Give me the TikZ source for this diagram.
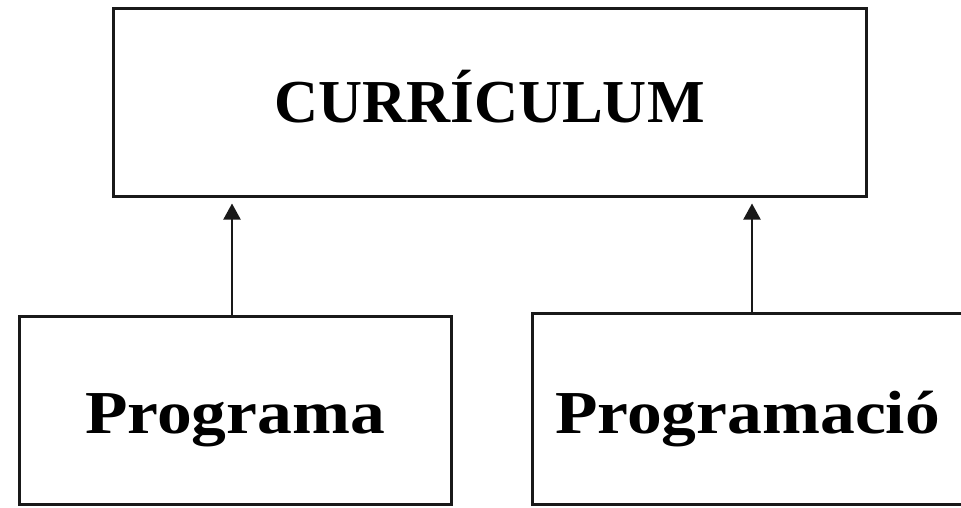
\documentclass[tikz,border=0pt]{standalone}
\usepackage{fontspec}
\setmainfont{Liberation Serif}
\newfontfamily\widefont[FakeStretch=1.14]{Liberation Serif}
\usetikzlibrary{arrows.meta}
\begin{document}
\begin{tikzpicture}[x=1pt,y=-1pt,
  boxstyle/.style={draw=black!90,line width=3pt,rectangle,inner sep=0pt,text depth=0pt},
  topfont/.style={font=\bfseries\fontsize{61}{61}\selectfont},
  lowfont/.style={font=\widefont\bfseries\fontsize{61}{61}\selectfont},
  conn/.style={draw=black!90,line width=2pt,-{Triangle[length=16pt,width=17pt]},shorten >=6pt}]
\useasboundingbox (0,0) rectangle (961,507);
\fill[white] (0,0) rectangle (961,507);
\node[boxstyle,topfont,text height=40pt,minimum width=753pt,minimum height=188pt] (top) at (489.5,102) {CURRÍCULUM};
\node[boxstyle,lowfont,text height=46pt,minimum width=432pt,minimum height=188pt] (left) at (235,410) {Programa};
\node[boxstyle,lowfont,text height=49pt,minimum width=443pt,minimum height=191pt] (right) at (753.5,408.5) {Programació\kern 12pt\relax};
\draw[conn] ([xshift=-3pt]left.north) -- ([xshift=-3pt]left.north |- top.south);
\draw[conn] ([xshift=-1.5pt]right.north) -- ([xshift=-1.5pt]right.north |- top.south);
\end{tikzpicture}
\end{document}
